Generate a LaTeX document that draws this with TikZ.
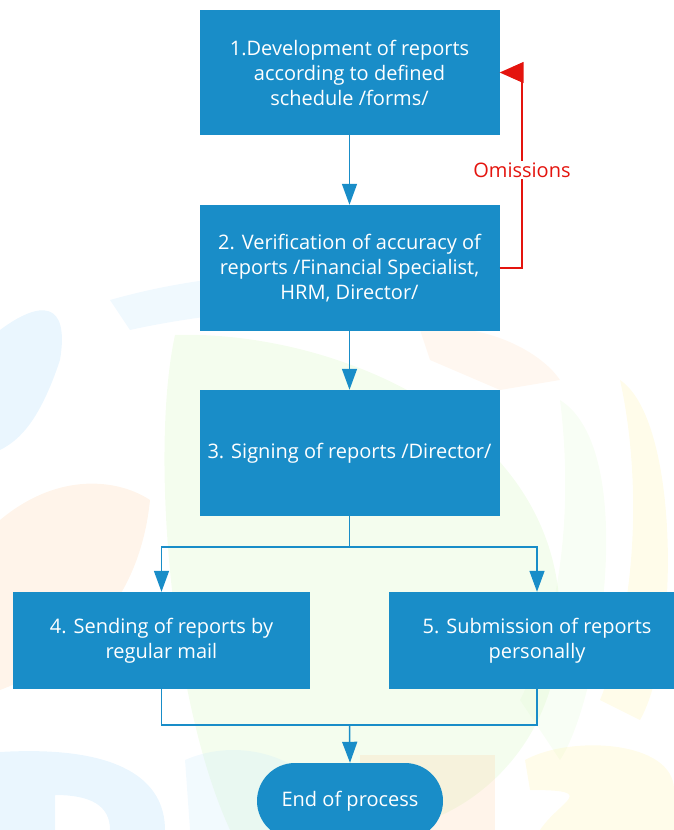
\documentclass[tikz,border=0pt]{standalone}
\usepackage{fontspec}
\setmainfont{Open Sans}
\usetikzlibrary{arrows.meta}
\definecolor{flowblue}{RGB}{25,141,200}
\definecolor{loopred}{RGB}{228,20,14}
\definecolor{wmgreen}{RGB}{200,245,170}
\definecolor{wmorange}{RGB}{255,200,150}
\definecolor{wmblue}{RGB}{150,210,250}
\definecolor{wmyellow}{RGB}{255,240,150}
\tikzset{
  stepbox/.style={rectangle, fill=flowblue, draw=none, text=white, align=center,
    inner sep=0pt, font=\fontsize{20}{25}\selectfont},
  endbox/.style={rectangle, rounded corners=38pt, fill=flowblue, text=white,
    inner sep=0pt, font=\fontsize{20}{25}\selectfont},
  flow/.style={draw=flowblue, line width=1.5pt, -{Triangle[length=21pt,width=15pt]}},
  link/.style={draw=flowblue, line width=1.5pt},
  back/.style={draw=loopred, line width=1.5pt, -{Triangle[length=24pt,width=21pt]}},
  wm/.style={opacity=0.2}
}
\begin{document}
\begin{tikzpicture}[x=1pt,y=-1pt]
\useasboundingbox (0,0) rectangle (674,830);
\clip (0,0) rectangle (674,830);

% faint logo in the background
\begin{scope}[wm]
  \fill[wmgreen] (175,335) .. controls (330,330) and (560,420) .. (560,620)
     .. controls (560,760) and (450,830) .. (380,830)
     -- (230,830) .. controls (170,700) and (150,450) .. (175,335) -- cycle;
  \fill[wmgreen!60!white] (560,400) .. controls (640,450) and (600,700) .. (560,760)
     -- (520,700) .. controls (570,600) and (570,480) .. (560,400) -- cycle;
  \fill[wmorange] (0,520) .. controls (60,470) and (120,480) .. (150,500)
     .. controls (140,600) and (80,660) .. (0,690) -- cycle;
  \fill[wmorange!70!white] (420,330) .. controls (480,320) and (540,350) .. (560,380)
     -- (500,390) -- (430,360) -- cycle;
  \fill[wmblue] (0,330) .. controls (40,300) and (70,300) .. (60,360)
     .. controls (40,420) and (20,440) .. (0,450) -- cycle;
  \fill[wmblue!70!white] (110,300) .. controls (250,260) and (400,270) .. (470,290)
     -- (440,310) .. controls (350,300) and (220,310) .. (130,330) -- cycle;
  \fill[wmyellow] (620,380) .. controls (680,420) and (680,650) .. (640,720)
     -- (600,700) .. controls (640,600) and (640,470) .. (620,380) -- cycle;
  % letters at the foot
  \fill[wmblue, even odd rule] (0,752) .. controls (120,745) and (165,780) .. (165,830) -- (0,830) -- cycle
     (55,795) .. controls (90,795) and (110,805) .. (110,830) -- (55,830) -- cycle;
  \fill[wmblue!60!white] (185,760) .. controls (230,740) and (290,750) .. (320,790)
     -- (320,830) -- (190,830) -- cycle;
  \fill[wmorange] (360,755) rectangle (495,830);
  \fill[wmyellow] (525,760) .. controls (570,735) and (674,740) .. (674,790)
     -- (674,830) -- (540,830) .. controls (560,800) and (600,790) .. (530,790) -- cycle;
\end{scope}

% process steps
\node[stepbox, minimum width=300pt, minimum height=125pt] (s1) at (349.5,72.5)
  {1.Development of reports\\according to defined\\schedule /forms/};
\node[stepbox, minimum width=300pt, minimum height=126pt] (s2) at (349.5,268)
  {2. Verification of accuracy of\\reports /Financial Specialist,\\HRM, Director/};
\node[stepbox, minimum width=300pt, minimum height=126pt] (s3) at (349.5,453)
  {3. Signing of reports /Director/};
\node[stepbox, minimum width=297pt, minimum height=97pt] (s4) at (161.5,640.5)
  {4. Sending of reports by\\regular mail};
\node[stepbox, minimum width=297pt, minimum height=97pt] (s5) at (537,640.5)
  {5. Submission of reports\\personally};
\node[endbox, minimum width=186pt, minimum height=76pt] (e) at (350,801)
  {End of process};

% connectors
\draw[flow] (s1.south) -- (s2.north);
\draw[flow] (s2.south) -- (s3.north);
\coordinate (split) at (349.5,547);
\coordinate (join) at (349.5,725);
\draw[link] (s3.south) -- (split);
\draw[flow] (split) -| (s4.north);
\draw[flow] (split) -| (s5.north);
\draw[link] (s4.south) |- (join);
\draw[link] (s5.south) |- (join);
\draw[flow] (join) -- (e.north);

% return path for omissions
\coordinate (ret) at (522,0);
\draw[back] (s2.east) -| (ret |- s1.east) -- (s1.east);
\node[fill=white, text=loopred, inner sep=2pt, font=\fontsize{20}{22}\selectfont]
  (om) at (522,170) {Omissions};
\end{tikzpicture}
\end{document}
